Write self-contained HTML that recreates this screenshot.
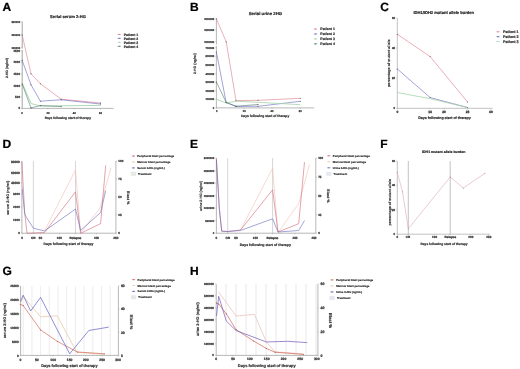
<!DOCTYPE html>
<html><head><meta charset="utf-8"><style>
html,body{margin:0;padding:0;background:#fff;}
body{width:520px;height:369px;overflow:hidden;}
svg{display:block;font-family:"Liberation Sans", sans-serif;will-change:transform;filter:blur(0.25px);}
</style></head><body>
<svg width="520" height="369" viewBox="0 0 520 369" text-rendering="geometricPrecision">
<rect width="520" height="369" fill="#fff"/>
<text transform="translate(2.60 10.70) scale(1.2000)" font-size="10" text-anchor="start" font-weight="bold" fill="#000" stroke="#000" stroke-width="0.208">A</text>
<text transform="translate(68.00 18.20) scale(0.4130)" font-size="10" text-anchor="middle" font-weight="bold" fill="#222" stroke="#222" stroke-width="0.436">Serial serum 2-HG</text>
<line x1="22.20" y1="21.70" x2="22.20" y2="48.50" stroke="#9a9a9a" stroke-width="0.9"/>
<line x1="22.20" y1="50.00" x2="22.20" y2="108.40" stroke="#9a9a9a" stroke-width="0.9"/>
<line x1="22.20" y1="108.40" x2="113.60" y2="108.40" stroke="#9a9a9a" stroke-width="0.7"/>
<line x1="21.20" y1="21.70" x2="22.20" y2="21.70" stroke="#9a9a9a" stroke-width="0.5"/>
<text transform="translate(20.10 22.64) scale(0.2600)" font-size="10" text-anchor="end" font-weight="bold" fill="#333" stroke="#333" stroke-width="0.962">300000</text>
<line x1="21.20" y1="34.60" x2="22.20" y2="34.60" stroke="#9a9a9a" stroke-width="0.5"/>
<text transform="translate(20.10 35.54) scale(0.2600)" font-size="10" text-anchor="end" font-weight="bold" fill="#333" stroke="#333" stroke-width="0.962">200000</text>
<line x1="21.20" y1="47.60" x2="22.20" y2="47.60" stroke="#9a9a9a" stroke-width="0.5"/>
<text transform="translate(20.10 48.54) scale(0.2600)" font-size="10" text-anchor="end" font-weight="bold" fill="#333" stroke="#333" stroke-width="0.962">100000</text>
<line x1="21.20" y1="50.70" x2="22.20" y2="50.70" stroke="#9a9a9a" stroke-width="0.5"/>
<text transform="translate(20.10 51.78) scale(0.3000)" font-size="10" text-anchor="end" font-weight="bold" fill="#333" stroke="#333" stroke-width="0.833">2500</text>
<line x1="21.20" y1="62.30" x2="22.20" y2="62.30" stroke="#9a9a9a" stroke-width="0.5"/>
<text transform="translate(20.10 63.38) scale(0.3000)" font-size="10" text-anchor="end" font-weight="bold" fill="#333" stroke="#333" stroke-width="0.833">2000</text>
<line x1="21.20" y1="73.90" x2="22.20" y2="73.90" stroke="#9a9a9a" stroke-width="0.5"/>
<text transform="translate(20.10 74.98) scale(0.3000)" font-size="10" text-anchor="end" font-weight="bold" fill="#333" stroke="#333" stroke-width="0.833">1500</text>
<line x1="21.20" y1="85.50" x2="22.20" y2="85.50" stroke="#9a9a9a" stroke-width="0.5"/>
<text transform="translate(20.10 86.58) scale(0.3000)" font-size="10" text-anchor="end" font-weight="bold" fill="#333" stroke="#333" stroke-width="0.833">1000</text>
<line x1="21.20" y1="96.90" x2="22.20" y2="96.90" stroke="#9a9a9a" stroke-width="0.5"/>
<text transform="translate(20.10 97.98) scale(0.3000)" font-size="10" text-anchor="end" font-weight="bold" fill="#333" stroke="#333" stroke-width="0.833">500</text>
<line x1="21.20" y1="108.40" x2="22.20" y2="108.40" stroke="#9a9a9a" stroke-width="0.5"/>
<text transform="translate(20.10 109.48) scale(0.3000)" font-size="10" text-anchor="end" font-weight="bold" fill="#333" stroke="#333" stroke-width="0.833">0</text>
<line x1="21.90" y1="108.40" x2="21.90" y2="109.40" stroke="#9a9a9a" stroke-width="0.5"/>
<text transform="translate(21.90 114.00) scale(0.2700)" font-size="10" text-anchor="middle" font-weight="bold" fill="#333" stroke="#333" stroke-width="0.926">0</text>
<line x1="48.10" y1="108.40" x2="48.10" y2="109.40" stroke="#9a9a9a" stroke-width="0.5"/>
<text transform="translate(48.10 114.00) scale(0.2700)" font-size="10" text-anchor="middle" font-weight="bold" fill="#333" stroke="#333" stroke-width="0.926">20</text>
<line x1="74.30" y1="108.40" x2="74.30" y2="109.40" stroke="#9a9a9a" stroke-width="0.5"/>
<text transform="translate(74.30 114.00) scale(0.2700)" font-size="10" text-anchor="middle" font-weight="bold" fill="#333" stroke="#333" stroke-width="0.926">40</text>
<line x1="100.50" y1="108.40" x2="100.50" y2="109.40" stroke="#9a9a9a" stroke-width="0.5"/>
<text transform="translate(100.50 114.00) scale(0.2700)" font-size="10" text-anchor="middle" font-weight="bold" fill="#333" stroke="#333" stroke-width="0.926">60</text>
<text transform="translate(67.80 119.30) scale(0.3160)" font-size="10" text-anchor="middle" font-weight="bold" fill="#333" stroke="#333" stroke-width="0.633">Days following start of therapy</text>
<text transform="translate(7.91 68.00) rotate(-90) scale(0.3350)" font-size="10" text-anchor="middle" font-weight="bold" fill="#333" stroke="#333" stroke-width="0.478">2-HG (ng/ml)</text>
<polyline points="22.20,35.00 31.00,73.80 40.40,83.80 61.20,99.20 100.50,103.00" fill="none" stroke="#de7888" stroke-width="0.6" stroke-linejoin="round"/>
<circle cx="22.20" cy="35.00" r="0.55" fill="#555"/>
<circle cx="31.00" cy="73.80" r="0.55" fill="#555"/>
<circle cx="40.40" cy="83.80" r="0.55" fill="#555"/>
<circle cx="61.20" cy="99.20" r="0.55" fill="#555"/>
<circle cx="100.50" cy="103.00" r="0.55" fill="#555"/>
<polyline points="22.20,60.40 31.00,84.80 40.40,101.20 61.20,99.80 100.50,104.00" fill="none" stroke="#6464c0" stroke-width="0.6" stroke-linejoin="round"/>
<circle cx="22.20" cy="60.40" r="0.55" fill="#555"/>
<circle cx="31.00" cy="84.80" r="0.55" fill="#555"/>
<circle cx="40.40" cy="101.20" r="0.55" fill="#555"/>
<circle cx="61.20" cy="99.80" r="0.55" fill="#555"/>
<circle cx="100.50" cy="104.00" r="0.55" fill="#555"/>
<polyline points="22.20,82.90 31.00,103.50 40.40,106.00 100.50,105.40" fill="none" stroke="#a4d4a8" stroke-width="0.9" stroke-linejoin="round"/>
<polyline points="22.20,84.00 31.00,107.90 40.40,105.60 61.20,106.60" fill="none" stroke="#4c7c70" stroke-width="0.6" stroke-linejoin="round"/>
<circle cx="22.20" cy="84.00" r="0.55" fill="#555"/>
<circle cx="31.00" cy="107.90" r="0.55" fill="#555"/>
<circle cx="40.40" cy="105.60" r="0.55" fill="#555"/>
<circle cx="61.20" cy="106.60" r="0.55" fill="#555"/>
<line x1="117.60" y1="34.40" x2="120.80" y2="34.40" stroke="#de7888" stroke-width="0.7"/>
<circle cx="119.2" cy="34.4" r="0.55" fill="#de7888"/>
<text transform="translate(123.80 35.64) scale(0.3450)" font-size="10" text-anchor="start" font-weight="bold" fill="#333" stroke="#333" stroke-width="0.580">Patient 1</text>
<line x1="117.60" y1="38.37" x2="120.80" y2="38.37" stroke="#6464c0" stroke-width="0.7"/>
<circle cx="119.2" cy="38.37" r="0.55" fill="#6464c0"/>
<text transform="translate(123.80 39.61) scale(0.3450)" font-size="10" text-anchor="start" font-weight="bold" fill="#333" stroke="#333" stroke-width="0.580">Patient 2</text>
<line x1="117.60" y1="42.34" x2="120.80" y2="42.34" stroke="#a4d4a8" stroke-width="0.7"/>
<circle cx="119.2" cy="42.339999999999996" r="0.55" fill="#a4d4a8"/>
<text transform="translate(123.80 43.58) scale(0.3450)" font-size="10" text-anchor="start" font-weight="bold" fill="#333" stroke="#333" stroke-width="0.580">Patient 3</text>
<line x1="117.60" y1="46.31" x2="120.80" y2="46.31" stroke="#4c7c70" stroke-width="0.7"/>
<circle cx="119.2" cy="46.31" r="0.55" fill="#4c7c70"/>
<text transform="translate(123.80 47.55) scale(0.3450)" font-size="10" text-anchor="start" font-weight="bold" fill="#333" stroke="#333" stroke-width="0.580">Patient 4</text>
<text transform="translate(190.00 10.70) scale(1.2000)" font-size="10" text-anchor="start" font-weight="bold" fill="#000" stroke="#000" stroke-width="0.208">B</text>
<text transform="translate(265.40 14.60) scale(0.4300)" font-size="10" text-anchor="middle" font-weight="bold" fill="#222" stroke="#222" stroke-width="0.419">Serial urine 2HG</text>
<line x1="216.40" y1="18.80" x2="216.40" y2="44.50" stroke="#9a9a9a" stroke-width="0.7"/>
<line x1="216.40" y1="46.00" x2="216.40" y2="107.90" stroke="#9a9a9a" stroke-width="0.7"/>
<line x1="216.40" y1="107.90" x2="314.20" y2="107.90" stroke="#9a9a9a" stroke-width="0.7"/>
<line x1="215.40" y1="18.80" x2="216.40" y2="18.80" stroke="#9a9a9a" stroke-width="0.5"/>
<text transform="translate(214.30 19.74) scale(0.2600)" font-size="10" text-anchor="end" font-weight="bold" fill="#333" stroke="#333" stroke-width="0.962">2000000</text>
<line x1="215.40" y1="30.20" x2="216.40" y2="30.20" stroke="#9a9a9a" stroke-width="0.5"/>
<text transform="translate(214.30 31.14) scale(0.2600)" font-size="10" text-anchor="end" font-weight="bold" fill="#333" stroke="#333" stroke-width="0.962">1500000</text>
<line x1="215.40" y1="41.60" x2="216.40" y2="41.60" stroke="#9a9a9a" stroke-width="0.5"/>
<text transform="translate(214.30 42.54) scale(0.2600)" font-size="10" text-anchor="end" font-weight="bold" fill="#333" stroke="#333" stroke-width="0.962">1000000</text>
<line x1="215.40" y1="47.60" x2="216.40" y2="47.60" stroke="#9a9a9a" stroke-width="0.5"/>
<text transform="translate(214.30 48.54) scale(0.2600)" font-size="10" text-anchor="end" font-weight="bold" fill="#333" stroke="#333" stroke-width="0.962">700000</text>
<line x1="215.40" y1="56.30" x2="216.40" y2="56.30" stroke="#9a9a9a" stroke-width="0.5"/>
<text transform="translate(214.30 57.24) scale(0.2600)" font-size="10" text-anchor="end" font-weight="bold" fill="#333" stroke="#333" stroke-width="0.962">600000</text>
<line x1="215.40" y1="64.90" x2="216.40" y2="64.90" stroke="#9a9a9a" stroke-width="0.5"/>
<text transform="translate(214.30 65.84) scale(0.2600)" font-size="10" text-anchor="end" font-weight="bold" fill="#333" stroke="#333" stroke-width="0.962">500000</text>
<line x1="215.40" y1="73.60" x2="216.40" y2="73.60" stroke="#9a9a9a" stroke-width="0.5"/>
<text transform="translate(214.30 74.54) scale(0.2600)" font-size="10" text-anchor="end" font-weight="bold" fill="#333" stroke="#333" stroke-width="0.962">400000</text>
<line x1="215.40" y1="82.20" x2="216.40" y2="82.20" stroke="#9a9a9a" stroke-width="0.5"/>
<text transform="translate(214.30 83.14) scale(0.2600)" font-size="10" text-anchor="end" font-weight="bold" fill="#333" stroke="#333" stroke-width="0.962">300000</text>
<line x1="215.40" y1="90.90" x2="216.40" y2="90.90" stroke="#9a9a9a" stroke-width="0.5"/>
<text transform="translate(214.30 91.84) scale(0.2600)" font-size="10" text-anchor="end" font-weight="bold" fill="#333" stroke="#333" stroke-width="0.962">200000</text>
<line x1="215.40" y1="99.40" x2="216.40" y2="99.40" stroke="#9a9a9a" stroke-width="0.5"/>
<text transform="translate(214.30 100.34) scale(0.2600)" font-size="10" text-anchor="end" font-weight="bold" fill="#333" stroke="#333" stroke-width="0.962">100000</text>
<line x1="215.40" y1="107.90" x2="216.40" y2="107.90" stroke="#9a9a9a" stroke-width="0.5"/>
<text transform="translate(214.30 108.84) scale(0.2600)" font-size="10" text-anchor="end" font-weight="bold" fill="#333" stroke="#333" stroke-width="0.962">0</text>
<line x1="216.60" y1="107.90" x2="216.60" y2="108.90" stroke="#9a9a9a" stroke-width="0.5"/>
<text transform="translate(216.60 112.20) scale(0.2600)" font-size="10" text-anchor="middle" font-weight="bold" fill="#333" stroke="#333" stroke-width="0.962">0</text>
<line x1="244.20" y1="107.90" x2="244.20" y2="108.90" stroke="#9a9a9a" stroke-width="0.5"/>
<text transform="translate(244.20 112.20) scale(0.2600)" font-size="10" text-anchor="middle" font-weight="bold" fill="#333" stroke="#333" stroke-width="0.962">20</text>
<line x1="272.00" y1="107.90" x2="272.00" y2="108.90" stroke="#9a9a9a" stroke-width="0.5"/>
<text transform="translate(272.00 112.20) scale(0.2600)" font-size="10" text-anchor="middle" font-weight="bold" fill="#333" stroke="#333" stroke-width="0.962">40</text>
<line x1="300.20" y1="107.90" x2="300.20" y2="108.90" stroke="#9a9a9a" stroke-width="0.5"/>
<text transform="translate(300.20 112.20) scale(0.2600)" font-size="10" text-anchor="middle" font-weight="bold" fill="#333" stroke="#333" stroke-width="0.962">60</text>
<text transform="translate(265.10 116.70) scale(0.3300)" font-size="10" text-anchor="middle" font-weight="bold" fill="#333" stroke="#333" stroke-width="0.606">Days following start of therapy</text>
<text transform="translate(196.06 63.60) rotate(-90) scale(0.3500)" font-size="10" text-anchor="middle" font-weight="bold" fill="#333" stroke="#333" stroke-width="0.457">2-HG (ng/ml)</text>
<polyline points="216.40,18.80 226.20,41.80 236.00,100.60 258.00,100.30 300.30,98.30" fill="none" stroke="#de7888" stroke-width="0.6" stroke-linejoin="round"/>
<circle cx="216.40" cy="18.80" r="0.55" fill="#555"/>
<circle cx="226.20" cy="41.80" r="0.55" fill="#555"/>
<circle cx="236.00" cy="100.60" r="0.55" fill="#555"/>
<circle cx="258.00" cy="100.30" r="0.55" fill="#555"/>
<circle cx="300.30" cy="98.30" r="0.55" fill="#555"/>
<polyline points="216.40,52.00 226.20,102.60 236.00,106.40 258.00,106.30 300.30,101.30" fill="none" stroke="#6464c0" stroke-width="0.6" stroke-linejoin="round"/>
<circle cx="216.40" cy="52.00" r="0.55" fill="#555"/>
<circle cx="226.20" cy="102.60" r="0.55" fill="#555"/>
<circle cx="236.00" cy="106.40" r="0.55" fill="#555"/>
<circle cx="258.00" cy="106.30" r="0.55" fill="#555"/>
<circle cx="300.30" cy="101.30" r="0.55" fill="#555"/>
<polyline points="216.40,99.20 226.20,103.00 236.00,101.20 258.00,102.30 300.30,104.70" fill="none" stroke="#a4d4a8" stroke-width="0.8" stroke-linejoin="round"/>
<polyline points="216.40,82.00 226.20,102.40 236.00,106.30 258.00,104.50" fill="none" stroke="#4c7c70" stroke-width="0.6" stroke-linejoin="round"/>
<circle cx="216.40" cy="82.00" r="0.55" fill="#555"/>
<circle cx="226.20" cy="102.40" r="0.55" fill="#555"/>
<circle cx="236.00" cy="106.30" r="0.55" fill="#555"/>
<circle cx="258.00" cy="104.50" r="0.55" fill="#555"/>
<line x1="313.90" y1="29.00" x2="317.10" y2="29.00" stroke="#de7888" stroke-width="0.7"/>
<circle cx="315.5" cy="29.0" r="0.55" fill="#de7888"/>
<text transform="translate(320.30 30.26) scale(0.3500)" font-size="10" text-anchor="start" font-weight="bold" fill="#333" stroke="#333" stroke-width="0.571">Patient 1</text>
<line x1="313.90" y1="33.95" x2="317.10" y2="33.95" stroke="#6464c0" stroke-width="0.7"/>
<circle cx="315.5" cy="33.95" r="0.55" fill="#6464c0"/>
<text transform="translate(320.30 35.21) scale(0.3500)" font-size="10" text-anchor="start" font-weight="bold" fill="#333" stroke="#333" stroke-width="0.571">Patient 2</text>
<line x1="313.90" y1="38.90" x2="317.10" y2="38.90" stroke="#a4d4a8" stroke-width="0.7"/>
<circle cx="315.5" cy="38.9" r="0.55" fill="#a4d4a8"/>
<text transform="translate(320.30 40.16) scale(0.3500)" font-size="10" text-anchor="start" font-weight="bold" fill="#333" stroke="#333" stroke-width="0.571">Patient 3</text>
<line x1="313.90" y1="43.85" x2="317.10" y2="43.85" stroke="#4c7c70" stroke-width="0.7"/>
<circle cx="315.5" cy="43.85" r="0.55" fill="#4c7c70"/>
<text transform="translate(320.30 45.11) scale(0.3500)" font-size="10" text-anchor="start" font-weight="bold" fill="#333" stroke="#333" stroke-width="0.571">Patient 4</text>
<text transform="translate(380.20 10.70) scale(1.2000)" font-size="10" text-anchor="start" font-weight="bold" fill="#000" stroke="#000" stroke-width="0.208">C</text>
<text transform="translate(443.70 13.50) scale(0.4060)" font-size="10" text-anchor="middle" font-weight="bold" fill="#222" stroke="#222" stroke-width="0.443">IDH1/IDH2 mutant allele burden</text>
<line x1="397.30" y1="18.00" x2="397.30" y2="108.30" stroke="#9a9a9a" stroke-width="0.6"/>
<line x1="397.30" y1="108.30" x2="492.50" y2="108.30" stroke="#9a9a9a" stroke-width="0.6"/>
<line x1="396.30" y1="18.00" x2="397.30" y2="18.00" stroke="#9a9a9a" stroke-width="0.5"/>
<text transform="translate(395.20 19.04) scale(0.2900)" font-size="10" text-anchor="end" font-weight="bold" fill="#333" stroke="#333" stroke-width="0.862">60</text>
<line x1="396.30" y1="48.10" x2="397.30" y2="48.10" stroke="#9a9a9a" stroke-width="0.5"/>
<text transform="translate(395.20 49.14) scale(0.2900)" font-size="10" text-anchor="end" font-weight="bold" fill="#333" stroke="#333" stroke-width="0.862">40</text>
<line x1="396.30" y1="78.20" x2="397.30" y2="78.20" stroke="#9a9a9a" stroke-width="0.5"/>
<text transform="translate(395.20 79.24) scale(0.2900)" font-size="10" text-anchor="end" font-weight="bold" fill="#333" stroke="#333" stroke-width="0.862">20</text>
<line x1="396.30" y1="108.30" x2="397.30" y2="108.30" stroke="#9a9a9a" stroke-width="0.5"/>
<text transform="translate(395.20 109.34) scale(0.2900)" font-size="10" text-anchor="end" font-weight="bold" fill="#333" stroke="#333" stroke-width="0.862">0</text>
<line x1="397.30" y1="108.30" x2="397.30" y2="109.30" stroke="#9a9a9a" stroke-width="0.5"/>
<text transform="translate(397.30 113.20) scale(0.3300)" font-size="10" text-anchor="middle" font-weight="bold" fill="#333" stroke="#333" stroke-width="0.758">0</text>
<line x1="430.10" y1="108.30" x2="430.10" y2="109.30" stroke="#9a9a9a" stroke-width="0.5"/>
<text transform="translate(430.10 113.20) scale(0.3300)" font-size="10" text-anchor="middle" font-weight="bold" fill="#333" stroke="#333" stroke-width="0.758">14</text>
<line x1="444.10" y1="108.30" x2="444.10" y2="109.30" stroke="#9a9a9a" stroke-width="0.5"/>
<text transform="translate(444.10 113.20) scale(0.3300)" font-size="10" text-anchor="middle" font-weight="bold" fill="#333" stroke="#333" stroke-width="0.758">20</text>
<line x1="467.50" y1="108.30" x2="467.50" y2="109.30" stroke="#9a9a9a" stroke-width="0.5"/>
<text transform="translate(467.50 113.20) scale(0.3300)" font-size="10" text-anchor="middle" font-weight="bold" fill="#333" stroke="#333" stroke-width="0.758">28</text>
<line x1="490.90" y1="108.30" x2="490.90" y2="109.30" stroke="#9a9a9a" stroke-width="0.5"/>
<text transform="translate(490.90 113.20) scale(0.3300)" font-size="10" text-anchor="middle" font-weight="bold" fill="#333" stroke="#333" stroke-width="0.758">40</text>
<text transform="translate(444.50 118.50) scale(0.3600)" font-size="10" text-anchor="middle" font-weight="bold" fill="#333" stroke="#333" stroke-width="0.556">Days following start of therapy</text>
<text transform="translate(390.02 63.20) rotate(-90) scale(0.3660)" font-size="10" text-anchor="middle" font-weight="bold" fill="#333" stroke="#333" stroke-width="0.437">percentage of mutant allele</text>
<polyline points="397.30,34.30 430.10,56.50 467.50,102.00" fill="none" stroke="#de7888" stroke-width="0.6" stroke-linejoin="round"/>
<circle cx="397.30" cy="34.30" r="0.55" fill="#555"/>
<circle cx="430.10" cy="56.50" r="0.55" fill="#555"/>
<circle cx="467.50" cy="102.00" r="0.55" fill="#555"/>
<polyline points="397.30,69.00 430.10,97.50 467.50,107.50" fill="none" stroke="#6464c0" stroke-width="0.6" stroke-linejoin="round"/>
<circle cx="397.30" cy="69.00" r="0.55" fill="#555"/>
<circle cx="430.10" cy="97.50" r="0.55" fill="#555"/>
<circle cx="467.50" cy="107.50" r="0.55" fill="#555"/>
<polyline points="397.30,92.50 430.10,98.70 467.50,107.50" fill="none" stroke="#a4d4a8" stroke-width="0.8" stroke-linejoin="round"/>
<line x1="496.40" y1="31.80" x2="499.60" y2="31.80" stroke="#de7888" stroke-width="0.7"/>
<circle cx="498" cy="31.8" r="0.55" fill="#de7888"/>
<text transform="translate(503.00 33.15) scale(0.3750)" font-size="10" text-anchor="start" font-weight="bold" fill="#333" stroke="#333" stroke-width="0.533">Patient 1</text>
<line x1="496.40" y1="36.65" x2="499.60" y2="36.65" stroke="#6464c0" stroke-width="0.7"/>
<circle cx="498" cy="36.65" r="0.55" fill="#6464c0"/>
<text transform="translate(503.00 38.00) scale(0.3750)" font-size="10" text-anchor="start" font-weight="bold" fill="#333" stroke="#333" stroke-width="0.533">Patient 2</text>
<line x1="496.40" y1="41.50" x2="499.60" y2="41.50" stroke="#a4d4a8" stroke-width="0.7"/>
<circle cx="498" cy="41.5" r="0.55" fill="#a4d4a8"/>
<text transform="translate(503.00 42.85) scale(0.3750)" font-size="10" text-anchor="start" font-weight="bold" fill="#333" stroke="#333" stroke-width="0.533">Patient 3</text>
<text transform="translate(2.60 147.70) scale(1.2000)" font-size="10" text-anchor="start" font-weight="bold" fill="#000" stroke="#000" stroke-width="0.208">D</text>
<line x1="33.40" y1="161.00" x2="33.40" y2="233.20" stroke="#c4c4cc" stroke-width="0.7"/>
<line x1="75.50" y1="161.00" x2="75.50" y2="233.20" stroke="#c4c4cc" stroke-width="0.7"/>
<line x1="21.90" y1="161.00" x2="21.90" y2="186.00" stroke="#9a9a9a" stroke-width="0.7"/>
<line x1="21.90" y1="189.00" x2="21.90" y2="233.20" stroke="#9a9a9a" stroke-width="0.7"/>
<line x1="115.90" y1="161.00" x2="115.90" y2="233.20" stroke="#9a9a9a" stroke-width="0.7"/>
<line x1="21.90" y1="233.20" x2="115.90" y2="233.20" stroke="#9a9a9a" stroke-width="0.7"/>
<line x1="20.90" y1="161.80" x2="21.90" y2="161.80" stroke="#9a9a9a" stroke-width="0.5"/>
<text transform="translate(19.80 162.95) scale(0.3200)" font-size="10" text-anchor="end" font-weight="bold" fill="#333" stroke="#333" stroke-width="0.781">80000</text>
<line x1="20.90" y1="172.40" x2="21.90" y2="172.40" stroke="#9a9a9a" stroke-width="0.5"/>
<text transform="translate(19.80 173.55) scale(0.3200)" font-size="10" text-anchor="end" font-weight="bold" fill="#333" stroke="#333" stroke-width="0.781">60000</text>
<line x1="20.90" y1="183.00" x2="21.90" y2="183.00" stroke="#9a9a9a" stroke-width="0.5"/>
<text transform="translate(19.80 184.15) scale(0.3200)" font-size="10" text-anchor="end" font-weight="bold" fill="#333" stroke="#333" stroke-width="0.781">40000</text>
<line x1="20.90" y1="193.90" x2="21.90" y2="193.90" stroke="#9a9a9a" stroke-width="0.5"/>
<text transform="translate(19.80 194.98) scale(0.3000)" font-size="10" text-anchor="end" font-weight="bold" fill="#333" stroke="#333" stroke-width="0.833">3000</text>
<line x1="20.90" y1="207.10" x2="21.90" y2="207.10" stroke="#9a9a9a" stroke-width="0.5"/>
<text transform="translate(19.80 208.18) scale(0.3000)" font-size="10" text-anchor="end" font-weight="bold" fill="#333" stroke="#333" stroke-width="0.833">2000</text>
<line x1="20.90" y1="220.30" x2="21.90" y2="220.30" stroke="#9a9a9a" stroke-width="0.5"/>
<text transform="translate(19.80 221.38) scale(0.3000)" font-size="10" text-anchor="end" font-weight="bold" fill="#333" stroke="#333" stroke-width="0.833">1000</text>
<line x1="20.90" y1="233.20" x2="21.90" y2="233.20" stroke="#9a9a9a" stroke-width="0.5"/>
<text transform="translate(19.80 234.28) scale(0.3000)" font-size="10" text-anchor="end" font-weight="bold" fill="#333" stroke="#333" stroke-width="0.833">0</text>
<line x1="115.90" y1="161.00" x2="116.90" y2="161.00" stroke="#9a9a9a" stroke-width="0.5"/>
<text transform="translate(118.30 162.08) scale(0.3000)" font-size="10" text-anchor="start" font-weight="bold" fill="#333" stroke="#333" stroke-width="0.833">100</text>
<line x1="115.90" y1="178.80" x2="116.90" y2="178.80" stroke="#9a9a9a" stroke-width="0.5"/>
<text transform="translate(118.30 179.88) scale(0.3000)" font-size="10" text-anchor="start" font-weight="bold" fill="#333" stroke="#333" stroke-width="0.833">75</text>
<line x1="115.90" y1="196.90" x2="116.90" y2="196.90" stroke="#9a9a9a" stroke-width="0.5"/>
<text transform="translate(118.30 197.98) scale(0.3000)" font-size="10" text-anchor="start" font-weight="bold" fill="#333" stroke="#333" stroke-width="0.833">50</text>
<line x1="115.90" y1="214.70" x2="116.90" y2="214.70" stroke="#9a9a9a" stroke-width="0.5"/>
<text transform="translate(118.30 215.78) scale(0.3000)" font-size="10" text-anchor="start" font-weight="bold" fill="#333" stroke="#333" stroke-width="0.833">25</text>
<line x1="115.90" y1="233.20" x2="116.90" y2="233.20" stroke="#9a9a9a" stroke-width="0.5"/>
<text transform="translate(118.30 234.28) scale(0.3000)" font-size="10" text-anchor="start" font-weight="bold" fill="#333" stroke="#333" stroke-width="0.833">0</text>
<line x1="22.20" y1="233.20" x2="22.20" y2="234.20" stroke="#9a9a9a" stroke-width="0.5"/>
<text transform="translate(22.20 238.90) scale(0.3100)" font-size="10" text-anchor="middle" font-weight="bold" fill="#333" stroke="#333" stroke-width="0.806">0</text>
<line x1="33.20" y1="233.20" x2="33.20" y2="234.20" stroke="#9a9a9a" stroke-width="0.5"/>
<text transform="translate(33.20 238.90) scale(0.3100)" font-size="10" text-anchor="middle" font-weight="bold" fill="#333" stroke="#333" stroke-width="0.806">CR</text>
<line x1="40.40" y1="233.20" x2="40.40" y2="234.20" stroke="#9a9a9a" stroke-width="0.5"/>
<text transform="translate(40.40 238.90) scale(0.3100)" font-size="10" text-anchor="middle" font-weight="bold" fill="#333" stroke="#333" stroke-width="0.806">50</text>
<line x1="59.40" y1="233.20" x2="59.40" y2="234.20" stroke="#9a9a9a" stroke-width="0.5"/>
<text transform="translate(59.40 238.90) scale(0.3100)" font-size="10" text-anchor="middle" font-weight="bold" fill="#333" stroke="#333" stroke-width="0.806">100</text>
<line x1="75.40" y1="233.20" x2="75.40" y2="234.20" stroke="#9a9a9a" stroke-width="0.5"/>
<text transform="translate(75.40 238.90) scale(0.3100)" font-size="10" text-anchor="middle" font-weight="bold" fill="#333" stroke="#333" stroke-width="0.806">Relapse</text>
<line x1="96.50" y1="233.20" x2="96.50" y2="234.20" stroke="#9a9a9a" stroke-width="0.5"/>
<text transform="translate(96.50 238.90) scale(0.3100)" font-size="10" text-anchor="middle" font-weight="bold" fill="#333" stroke="#333" stroke-width="0.806">200</text>
<line x1="115.90" y1="233.20" x2="115.90" y2="234.20" stroke="#9a9a9a" stroke-width="0.5"/>
<text transform="translate(115.90 238.90) scale(0.3100)" font-size="10" text-anchor="middle" font-weight="bold" fill="#333" stroke="#333" stroke-width="0.806">250</text>
<text transform="translate(68.50 245.40) scale(0.3420)" font-size="10" text-anchor="middle" font-weight="bold" fill="#333" stroke="#333" stroke-width="0.585">Days following start of therapy</text>
<text transform="translate(8.62 197.70) rotate(-90) scale(0.3670)" font-size="10" text-anchor="middle" font-weight="bold" fill="#333" stroke="#333" stroke-width="0.436">serum 2-HG (ng/ml)</text>
<text transform="translate(127.17 197.50) rotate(90) scale(0.3700)" font-size="10" text-anchor="middle" font-weight="bold" fill="#333" stroke="#333" stroke-width="0.432">Blast %</text>
<polyline points="44.50,231.00 75.50,170.00 80.60,233.00 100.00,208.00 111.00,167.70" fill="none" stroke="#f0c0b0" stroke-width="0.6" stroke-linejoin="round"/>
<polyline points="21.90,161.90 24.70,212.50 27.00,233.30 44.50,232.50 75.50,191.80 80.60,233.30 100.60,223.60 105.70,165.40" fill="none" stroke="#d06676" stroke-width="0.6" stroke-linejoin="round"/>
<polyline points="21.90,186.00 24.70,213.70 26.00,216.70 33.40,228.20 44.50,231.00 75.50,209.00 80.60,230.50 100.60,212.50 105.70,190.70" fill="none" stroke="#6868bc" stroke-width="0.6" stroke-linejoin="round"/>
<line x1="131.80" y1="156.10" x2="135.00" y2="156.10" stroke="#d06676" stroke-width="0.7"/>
<circle cx="133.4" cy="156.1" r="0.55" fill="#d06676"/>
<text transform="translate(137.20 157.12) scale(0.2820)" font-size="10" text-anchor="start" font-weight="bold" fill="#333" stroke="#333" stroke-width="0.603">Peripheral blast percentage</text>
<line x1="131.80" y1="162.00" x2="135.00" y2="162.00" stroke="#f0c0b0" stroke-width="0.7"/>
<circle cx="133.4" cy="162.0" r="0.55" fill="#f0c0b0"/>
<text transform="translate(137.20 163.02) scale(0.2820)" font-size="10" text-anchor="start" font-weight="bold" fill="#333" stroke="#333" stroke-width="0.603">Marrow blast percentage</text>
<line x1="131.80" y1="167.90" x2="135.00" y2="167.90" stroke="#6868bc" stroke-width="0.7"/>
<circle cx="133.4" cy="167.9" r="0.55" fill="#6868bc"/>
<text transform="translate(137.20 168.92) scale(0.2820)" font-size="10" text-anchor="start" font-weight="bold" fill="#333" stroke="#333" stroke-width="0.603">Serum 2-HG (ng/mL)</text>
<rect x="130.80" y="171.80" width="5.20" height="4.00" fill="#e4ebe4"/>
<text transform="translate(138.00 174.82) scale(0.2820)" font-size="10" text-anchor="start" font-weight="bold" fill="#333" stroke="#333" stroke-width="0.603">Treatment</text>
<text transform="translate(190.00 147.80) scale(1.2000)" font-size="10" text-anchor="start" font-weight="bold" fill="#000" stroke="#000" stroke-width="0.208">E</text>
<line x1="227.70" y1="158.00" x2="227.70" y2="233.20" stroke="#c4c4cc" stroke-width="0.7"/>
<line x1="272.60" y1="158.00" x2="272.60" y2="233.20" stroke="#c4c4cc" stroke-width="0.7"/>
<line x1="216.40" y1="158.00" x2="216.40" y2="233.20" stroke="#9a9a9a" stroke-width="0.7"/>
<line x1="315.80" y1="158.00" x2="315.80" y2="233.20" stroke="#9a9a9a" stroke-width="0.7"/>
<line x1="216.40" y1="233.20" x2="315.80" y2="233.20" stroke="#9a9a9a" stroke-width="0.7"/>
<line x1="215.40" y1="158.30" x2="216.40" y2="158.30" stroke="#9a9a9a" stroke-width="0.5"/>
<text transform="translate(214.30 159.27) scale(0.2700)" font-size="10" text-anchor="end" font-weight="bold" fill="#333" stroke="#333" stroke-width="0.926">3000000</text>
<line x1="215.40" y1="170.80" x2="216.40" y2="170.80" stroke="#9a9a9a" stroke-width="0.5"/>
<text transform="translate(214.30 171.77) scale(0.2700)" font-size="10" text-anchor="end" font-weight="bold" fill="#333" stroke="#333" stroke-width="0.926">2500000</text>
<line x1="215.40" y1="183.20" x2="216.40" y2="183.20" stroke="#9a9a9a" stroke-width="0.5"/>
<text transform="translate(214.30 184.17) scale(0.2700)" font-size="10" text-anchor="end" font-weight="bold" fill="#333" stroke="#333" stroke-width="0.926">2000000</text>
<line x1="215.40" y1="195.60" x2="216.40" y2="195.60" stroke="#9a9a9a" stroke-width="0.5"/>
<text transform="translate(214.30 196.57) scale(0.2700)" font-size="10" text-anchor="end" font-weight="bold" fill="#333" stroke="#333" stroke-width="0.926">1500000</text>
<line x1="215.40" y1="208.20" x2="216.40" y2="208.20" stroke="#9a9a9a" stroke-width="0.5"/>
<text transform="translate(214.30 209.17) scale(0.2700)" font-size="10" text-anchor="end" font-weight="bold" fill="#333" stroke="#333" stroke-width="0.926">1000000</text>
<line x1="215.40" y1="220.70" x2="216.40" y2="220.70" stroke="#9a9a9a" stroke-width="0.5"/>
<text transform="translate(214.30 221.67) scale(0.2700)" font-size="10" text-anchor="end" font-weight="bold" fill="#333" stroke="#333" stroke-width="0.926">500000</text>
<line x1="215.40" y1="233.20" x2="216.40" y2="233.20" stroke="#9a9a9a" stroke-width="0.5"/>
<text transform="translate(214.30 234.17) scale(0.2700)" font-size="10" text-anchor="end" font-weight="bold" fill="#333" stroke="#333" stroke-width="0.926">0</text>
<line x1="315.80" y1="158.20" x2="316.80" y2="158.20" stroke="#9a9a9a" stroke-width="0.5"/>
<text transform="translate(318.20 159.28) scale(0.3000)" font-size="10" text-anchor="start" font-weight="bold" fill="#333" stroke="#333" stroke-width="0.833">100</text>
<line x1="315.80" y1="177.00" x2="316.80" y2="177.00" stroke="#9a9a9a" stroke-width="0.5"/>
<text transform="translate(318.20 178.08) scale(0.3000)" font-size="10" text-anchor="start" font-weight="bold" fill="#333" stroke="#333" stroke-width="0.833">75</text>
<line x1="315.80" y1="195.80" x2="316.80" y2="195.80" stroke="#9a9a9a" stroke-width="0.5"/>
<text transform="translate(318.20 196.88) scale(0.3000)" font-size="10" text-anchor="start" font-weight="bold" fill="#333" stroke="#333" stroke-width="0.833">50</text>
<line x1="315.80" y1="214.60" x2="316.80" y2="214.60" stroke="#9a9a9a" stroke-width="0.5"/>
<text transform="translate(318.20 215.68) scale(0.3000)" font-size="10" text-anchor="start" font-weight="bold" fill="#333" stroke="#333" stroke-width="0.833">25</text>
<line x1="315.80" y1="233.20" x2="316.80" y2="233.20" stroke="#9a9a9a" stroke-width="0.5"/>
<text transform="translate(318.20 234.28) scale(0.3000)" font-size="10" text-anchor="start" font-weight="bold" fill="#333" stroke="#333" stroke-width="0.833">0</text>
<line x1="216.40" y1="233.20" x2="216.40" y2="234.20" stroke="#9a9a9a" stroke-width="0.5"/>
<text transform="translate(216.40 238.90) scale(0.3100)" font-size="10" text-anchor="middle" font-weight="bold" fill="#333" stroke="#333" stroke-width="0.806">0</text>
<line x1="227.70" y1="233.20" x2="227.70" y2="234.20" stroke="#9a9a9a" stroke-width="0.5"/>
<text transform="translate(227.70 238.90) scale(0.3100)" font-size="10" text-anchor="middle" font-weight="bold" fill="#333" stroke="#333" stroke-width="0.806">CR</text>
<line x1="235.90" y1="233.20" x2="235.90" y2="234.20" stroke="#9a9a9a" stroke-width="0.5"/>
<text transform="translate(235.90 238.90) scale(0.3100)" font-size="10" text-anchor="middle" font-weight="bold" fill="#333" stroke="#333" stroke-width="0.806">50</text>
<line x1="255.40" y1="233.20" x2="255.40" y2="234.20" stroke="#9a9a9a" stroke-width="0.5"/>
<text transform="translate(255.40 238.90) scale(0.3100)" font-size="10" text-anchor="middle" font-weight="bold" fill="#333" stroke="#333" stroke-width="0.806">100</text>
<line x1="272.40" y1="233.20" x2="272.40" y2="234.20" stroke="#9a9a9a" stroke-width="0.5"/>
<text transform="translate(272.40 238.90) scale(0.3100)" font-size="10" text-anchor="middle" font-weight="bold" fill="#333" stroke="#333" stroke-width="0.806">Relapse</text>
<line x1="295.00" y1="233.20" x2="295.00" y2="234.20" stroke="#9a9a9a" stroke-width="0.5"/>
<text transform="translate(295.00 238.90) scale(0.3100)" font-size="10" text-anchor="middle" font-weight="bold" fill="#333" stroke="#333" stroke-width="0.806">200</text>
<line x1="314.00" y1="233.20" x2="314.00" y2="234.20" stroke="#9a9a9a" stroke-width="0.5"/>
<text transform="translate(314.00 238.90) scale(0.3100)" font-size="10" text-anchor="middle" font-weight="bold" fill="#333" stroke="#333" stroke-width="0.806">250</text>
<text transform="translate(265.30 245.90) scale(0.3500)" font-size="10" text-anchor="middle" font-weight="bold" fill="#333" stroke="#333" stroke-width="0.571">Days following start of therapy</text>
<text transform="translate(201.85 196.00) rotate(-90) scale(0.3460)" font-size="10" text-anchor="middle" font-weight="bold" fill="#333" stroke="#333" stroke-width="0.462">urine 2-HG (ng/ml)</text>
<text transform="translate(326.67 195.80) rotate(90) scale(0.3700)" font-size="10" text-anchor="middle" font-weight="bold" fill="#333" stroke="#333" stroke-width="0.432">Blast %</text>
<polyline points="240.50,230.00 272.60,168.30 278.00,232.50 298.70,203.70 309.50,164.50" fill="none" stroke="#f0c0b0" stroke-width="0.6" stroke-linejoin="round"/>
<polyline points="216.40,158.50 219.30,208.50 221.70,231.20 227.70,231.50 240.50,230.00 272.60,189.80 278.00,232.00 298.70,223.70 304.50,162.00" fill="none" stroke="#d06676" stroke-width="0.6" stroke-linejoin="round"/>
<polyline points="216.40,160.00 219.30,208.00 221.70,231.20 227.70,231.50 240.50,230.50 272.60,218.80 278.00,232.00 298.70,230.50 304.50,220.50" fill="none" stroke="#6868bc" stroke-width="0.6" stroke-linejoin="round"/>
<line x1="327.20" y1="155.80" x2="330.40" y2="155.80" stroke="#d06676" stroke-width="0.7"/>
<circle cx="328.8" cy="155.8" r="0.55" fill="#d06676"/>
<text transform="translate(332.80 156.82) scale(0.2820)" font-size="10" text-anchor="start" font-weight="bold" fill="#333" stroke="#333" stroke-width="0.603">Peripheral blast percentage</text>
<line x1="327.20" y1="161.80" x2="330.40" y2="161.80" stroke="#f0c0b0" stroke-width="0.7"/>
<circle cx="328.8" cy="161.8" r="0.55" fill="#f0c0b0"/>
<text transform="translate(332.80 162.82) scale(0.2820)" font-size="10" text-anchor="start" font-weight="bold" fill="#333" stroke="#333" stroke-width="0.603">Marrow blast percentage</text>
<line x1="327.20" y1="167.80" x2="330.40" y2="167.80" stroke="#6868bc" stroke-width="0.7"/>
<circle cx="328.8" cy="167.8" r="0.55" fill="#6868bc"/>
<text transform="translate(332.80 168.82) scale(0.2820)" font-size="10" text-anchor="start" font-weight="bold" fill="#333" stroke="#333" stroke-width="0.603">Urine 2-HG (ng/mL)</text>
<rect x="326.20" y="171.80" width="5.20" height="4.00" fill="#e6e9f2"/>
<text transform="translate(333.60 174.82) scale(0.2820)" font-size="10" text-anchor="start" font-weight="bold" fill="#333" stroke="#333" stroke-width="0.603">Treatment</text>
<text transform="translate(380.20 148.20) scale(1.2000)" font-size="10" text-anchor="start" font-weight="bold" fill="#000" stroke="#000" stroke-width="0.208">F</text>
<text transform="translate(443.70 153.00) scale(0.3500)" font-size="10" text-anchor="middle" font-weight="bold" fill="#222" stroke="#222" stroke-width="0.514">IDH1 mutant allele burden</text>
<line x1="408.30" y1="161.00" x2="408.30" y2="234.20" stroke="#a8a8b0" stroke-width="0.7"/>
<line x1="450.20" y1="161.00" x2="450.20" y2="234.20" stroke="#a8a8b0" stroke-width="0.7"/>
<line x1="397.30" y1="161.00" x2="397.30" y2="234.20" stroke="#9a9a9a" stroke-width="0.6"/>
<line x1="397.30" y1="234.20" x2="489.50" y2="234.20" stroke="#9a9a9a" stroke-width="0.6"/>
<line x1="396.30" y1="161.00" x2="397.30" y2="161.00" stroke="#9a9a9a" stroke-width="0.5"/>
<text transform="translate(395.20 162.04) scale(0.2900)" font-size="10" text-anchor="end" font-weight="bold" fill="#333" stroke="#333" stroke-width="0.862">60</text>
<line x1="396.30" y1="185.40" x2="397.30" y2="185.40" stroke="#9a9a9a" stroke-width="0.5"/>
<text transform="translate(395.20 186.44) scale(0.2900)" font-size="10" text-anchor="end" font-weight="bold" fill="#333" stroke="#333" stroke-width="0.862">40</text>
<line x1="396.30" y1="209.80" x2="397.30" y2="209.80" stroke="#9a9a9a" stroke-width="0.5"/>
<text transform="translate(395.20 210.84) scale(0.2900)" font-size="10" text-anchor="end" font-weight="bold" fill="#333" stroke="#333" stroke-width="0.862">20</text>
<line x1="396.30" y1="234.20" x2="397.30" y2="234.20" stroke="#9a9a9a" stroke-width="0.5"/>
<text transform="translate(395.20 235.24) scale(0.2900)" font-size="10" text-anchor="end" font-weight="bold" fill="#333" stroke="#333" stroke-width="0.862">0</text>
<line x1="397.40" y1="234.20" x2="397.40" y2="235.20" stroke="#9a9a9a" stroke-width="0.5"/>
<text transform="translate(397.40 238.40) scale(0.3000)" font-size="10" text-anchor="middle" font-weight="bold" fill="#333" stroke="#333" stroke-width="0.833">0</text>
<line x1="408.00" y1="234.20" x2="408.00" y2="235.20" stroke="#9a9a9a" stroke-width="0.5"/>
<text transform="translate(408.00 238.40) scale(0.3000)" font-size="10" text-anchor="middle" font-weight="bold" fill="#333" stroke="#333" stroke-width="0.833">CR</text>
<line x1="434.60" y1="234.20" x2="434.60" y2="235.20" stroke="#9a9a9a" stroke-width="0.5"/>
<text transform="translate(434.60 238.40) scale(0.3000)" font-size="10" text-anchor="middle" font-weight="bold" fill="#333" stroke="#333" stroke-width="0.833">100</text>
<line x1="450.30" y1="234.20" x2="450.30" y2="235.20" stroke="#9a9a9a" stroke-width="0.5"/>
<text transform="translate(450.30 238.40) scale(0.3000)" font-size="10" text-anchor="middle" font-weight="bold" fill="#333" stroke="#333" stroke-width="0.833">Relapse</text>
<line x1="470.80" y1="234.20" x2="470.80" y2="235.20" stroke="#9a9a9a" stroke-width="0.5"/>
<text transform="translate(470.80 238.40) scale(0.3000)" font-size="10" text-anchor="middle" font-weight="bold" fill="#333" stroke="#333" stroke-width="0.833">200</text>
<line x1="488.80" y1="234.20" x2="488.80" y2="235.20" stroke="#9a9a9a" stroke-width="0.5"/>
<text transform="translate(488.80 238.40) scale(0.3000)" font-size="10" text-anchor="middle" font-weight="bold" fill="#333" stroke="#333" stroke-width="0.833">250</text>
<text transform="translate(444.00 245.00) scale(0.3220)" font-size="10" text-anchor="middle" font-weight="bold" fill="#333" stroke="#333" stroke-width="0.621">Days following start of therapy</text>
<text transform="translate(390.70 202.20) rotate(-90) scale(0.3600)" font-size="10" text-anchor="middle" font-weight="bold" fill="#333" stroke="#333" stroke-width="0.444">percentage of mutant allele</text>
<polyline points="397.30,172.50 402.50,191.80 408.30,228.70 450.20,177.00 463.30,188.00 485.00,173.30" fill="none" stroke="#dca8b2" stroke-width="0.6" stroke-linejoin="round"/>
<circle cx="397.30" cy="172.50" r="0.5" fill="#b08890"/>
<circle cx="402.50" cy="191.80" r="0.5" fill="#b08890"/>
<circle cx="408.30" cy="228.70" r="0.5" fill="#b08890"/>
<circle cx="450.20" cy="177.00" r="0.5" fill="#b08890"/>
<circle cx="463.30" cy="188.00" r="0.5" fill="#b08890"/>
<circle cx="485.00" cy="173.30" r="0.5" fill="#b08890"/>
<text transform="translate(2.60 274.60) scale(1.2000)" font-size="10" text-anchor="start" font-weight="bold" fill="#000" stroke="#000" stroke-width="0.208">G</text>
<line x1="23.20" y1="286.00" x2="23.20" y2="355.40" stroke="#e8e8ec" stroke-width="0.8"/>
<line x1="31.90" y1="286.00" x2="31.90" y2="355.40" stroke="#e8e8ec" stroke-width="0.8"/>
<line x1="40.60" y1="286.00" x2="40.60" y2="355.40" stroke="#e8e8ec" stroke-width="0.8"/>
<line x1="49.30" y1="286.00" x2="49.30" y2="355.40" stroke="#e8e8ec" stroke-width="0.8"/>
<line x1="58.00" y1="286.00" x2="58.00" y2="355.40" stroke="#e8e8ec" stroke-width="0.8"/>
<line x1="66.70" y1="286.00" x2="66.70" y2="355.40" stroke="#e8e8ec" stroke-width="0.8"/>
<line x1="75.40" y1="286.00" x2="75.40" y2="355.40" stroke="#e8e8ec" stroke-width="0.8"/>
<line x1="84.10" y1="286.00" x2="84.10" y2="355.40" stroke="#e8e8ec" stroke-width="0.8"/>
<line x1="92.80" y1="286.00" x2="92.80" y2="355.40" stroke="#e8e8ec" stroke-width="0.8"/>
<line x1="101.50" y1="286.00" x2="101.50" y2="355.40" stroke="#e8e8ec" stroke-width="0.8"/>
<line x1="110.20" y1="286.00" x2="110.20" y2="355.40" stroke="#e8e8ec" stroke-width="0.8"/>
<line x1="20.60" y1="286.20" x2="20.60" y2="355.40" stroke="#9a9a9a" stroke-width="0.7"/>
<line x1="118.40" y1="286.20" x2="118.40" y2="355.40" stroke="#9a9a9a" stroke-width="0.7"/>
<line x1="20.60" y1="355.40" x2="118.40" y2="355.40" stroke="#9a9a9a" stroke-width="0.7"/>
<line x1="19.60" y1="286.20" x2="20.60" y2="286.20" stroke="#9a9a9a" stroke-width="0.5"/>
<text transform="translate(18.80 287.32) scale(0.3100)" font-size="10" text-anchor="end" font-weight="bold" fill="#333" stroke="#333" stroke-width="0.806">25000</text>
<line x1="19.60" y1="299.90" x2="20.60" y2="299.90" stroke="#9a9a9a" stroke-width="0.5"/>
<text transform="translate(18.80 301.02) scale(0.3100)" font-size="10" text-anchor="end" font-weight="bold" fill="#333" stroke="#333" stroke-width="0.806">20000</text>
<line x1="19.60" y1="313.70" x2="20.60" y2="313.70" stroke="#9a9a9a" stroke-width="0.5"/>
<text transform="translate(18.80 314.82) scale(0.3100)" font-size="10" text-anchor="end" font-weight="bold" fill="#333" stroke="#333" stroke-width="0.806">15000</text>
<line x1="19.60" y1="327.60" x2="20.60" y2="327.60" stroke="#9a9a9a" stroke-width="0.5"/>
<text transform="translate(18.80 328.72) scale(0.3100)" font-size="10" text-anchor="end" font-weight="bold" fill="#333" stroke="#333" stroke-width="0.806">10000</text>
<line x1="19.60" y1="341.50" x2="20.60" y2="341.50" stroke="#9a9a9a" stroke-width="0.5"/>
<text transform="translate(18.80 342.62) scale(0.3100)" font-size="10" text-anchor="end" font-weight="bold" fill="#333" stroke="#333" stroke-width="0.806">5000</text>
<line x1="19.60" y1="355.40" x2="20.60" y2="355.40" stroke="#9a9a9a" stroke-width="0.5"/>
<text transform="translate(18.80 356.52) scale(0.3100)" font-size="10" text-anchor="end" font-weight="bold" fill="#333" stroke="#333" stroke-width="0.806">0</text>
<line x1="118.40" y1="285.90" x2="119.40" y2="285.90" stroke="#9a9a9a" stroke-width="0.5"/>
<text transform="translate(120.90 287.16) scale(0.3500)" font-size="10" text-anchor="start" font-weight="bold" fill="#333" stroke="#333" stroke-width="0.714">60</text>
<line x1="118.40" y1="309.20" x2="119.40" y2="309.20" stroke="#9a9a9a" stroke-width="0.5"/>
<text transform="translate(120.90 310.46) scale(0.3500)" font-size="10" text-anchor="start" font-weight="bold" fill="#333" stroke="#333" stroke-width="0.714">40</text>
<line x1="118.40" y1="332.40" x2="119.40" y2="332.40" stroke="#9a9a9a" stroke-width="0.5"/>
<text transform="translate(120.90 333.66) scale(0.3500)" font-size="10" text-anchor="start" font-weight="bold" fill="#333" stroke="#333" stroke-width="0.714">20</text>
<line x1="118.40" y1="355.40" x2="119.40" y2="355.40" stroke="#9a9a9a" stroke-width="0.5"/>
<text transform="translate(120.90 356.66) scale(0.3500)" font-size="10" text-anchor="start" font-weight="bold" fill="#333" stroke="#333" stroke-width="0.714">0</text>
<line x1="20.40" y1="355.40" x2="20.40" y2="356.40" stroke="#9a9a9a" stroke-width="0.5"/>
<text transform="translate(20.40 360.80) scale(0.3400)" font-size="10" text-anchor="middle" font-weight="bold" fill="#333" stroke="#333" stroke-width="0.735">0</text>
<line x1="36.80" y1="355.40" x2="36.80" y2="356.40" stroke="#9a9a9a" stroke-width="0.5"/>
<text transform="translate(36.80 360.80) scale(0.3400)" font-size="10" text-anchor="middle" font-weight="bold" fill="#333" stroke="#333" stroke-width="0.735">50</text>
<line x1="53.20" y1="355.40" x2="53.20" y2="356.40" stroke="#9a9a9a" stroke-width="0.5"/>
<text transform="translate(53.20 360.80) scale(0.3400)" font-size="10" text-anchor="middle" font-weight="bold" fill="#333" stroke="#333" stroke-width="0.735">100</text>
<line x1="69.60" y1="355.40" x2="69.60" y2="356.40" stroke="#9a9a9a" stroke-width="0.5"/>
<text transform="translate(69.60 360.80) scale(0.3400)" font-size="10" text-anchor="middle" font-weight="bold" fill="#333" stroke="#333" stroke-width="0.735">150</text>
<line x1="85.80" y1="355.40" x2="85.80" y2="356.40" stroke="#9a9a9a" stroke-width="0.5"/>
<text transform="translate(85.80 360.80) scale(0.3400)" font-size="10" text-anchor="middle" font-weight="bold" fill="#333" stroke="#333" stroke-width="0.735">200</text>
<line x1="102.10" y1="355.40" x2="102.10" y2="356.40" stroke="#9a9a9a" stroke-width="0.5"/>
<text transform="translate(102.10 360.80) scale(0.3400)" font-size="10" text-anchor="middle" font-weight="bold" fill="#333" stroke="#333" stroke-width="0.735">250</text>
<line x1="118.00" y1="355.40" x2="118.00" y2="356.40" stroke="#9a9a9a" stroke-width="0.5"/>
<text transform="translate(118.00 360.80) scale(0.3400)" font-size="10" text-anchor="middle" font-weight="bold" fill="#333" stroke="#333" stroke-width="0.735">300</text>
<text transform="translate(69.40 366.70) scale(0.3850)" font-size="10" text-anchor="middle" font-weight="bold" fill="#333" stroke="#333" stroke-width="0.519">Days following start of therapy</text>
<text transform="translate(6.17 320.70) rotate(-90) scale(0.3800)" font-size="10" text-anchor="middle" font-weight="bold" fill="#333" stroke="#333" stroke-width="0.421">serum 2-HG (ng/ml)</text>
<text transform="translate(129.72 322.00) rotate(90) scale(0.4100)" font-size="10" text-anchor="middle" font-weight="bold" fill="#333" stroke="#333" stroke-width="0.390">Blast %</text>
<polyline points="20.40,303.50 23.20,296.30 40.60,316.90 57.30,315.80 76.80,352.20 104.40,354.50" fill="none" stroke="#e6ccaa" stroke-width="0.8" stroke-linejoin="round"/>
<polyline points="20.40,304.30 23.20,305.60 40.60,329.90 57.30,341.40 77.30,352.00 104.40,353.80" fill="none" stroke="#d66a58" stroke-width="0.7" stroke-linejoin="round"/>
<circle cx="20.40" cy="304.30" r="0.5" fill="#b05040"/>
<circle cx="23.20" cy="305.60" r="0.5" fill="#b05040"/>
<circle cx="40.60" cy="329.90" r="0.5" fill="#b05040"/>
<circle cx="57.30" cy="341.40" r="0.5" fill="#b05040"/>
<circle cx="77.30" cy="352.00" r="0.5" fill="#b05040"/>
<circle cx="104.40" cy="353.80" r="0.5" fill="#b05040"/>
<polyline points="20.40,301.70 23.20,295.20 30.60,311.00 40.60,297.40 69.70,353.80 88.80,330.50 108.70,327.10" fill="none" stroke="#6060c0" stroke-width="0.7" stroke-linejoin="round"/>
<line x1="132.00" y1="279.60" x2="135.20" y2="279.60" stroke="#d66a58" stroke-width="0.7"/>
<circle cx="133.6" cy="279.6" r="0.55" fill="#d66a58"/>
<text transform="translate(137.50 280.62) scale(0.2820)" font-size="10" text-anchor="start" font-weight="bold" fill="#333" stroke="#333" stroke-width="0.603">Peripheral blast percentage</text>
<line x1="132.00" y1="285.50" x2="135.20" y2="285.50" stroke="#e6ccaa" stroke-width="0.7"/>
<circle cx="133.6" cy="285.5" r="0.55" fill="#e6ccaa"/>
<text transform="translate(137.50 286.52) scale(0.2820)" font-size="10" text-anchor="start" font-weight="bold" fill="#333" stroke="#333" stroke-width="0.603">Marrow blast percentage</text>
<line x1="132.00" y1="291.40" x2="135.20" y2="291.40" stroke="#6060c0" stroke-width="0.7"/>
<circle cx="133.6" cy="291.40000000000003" r="0.55" fill="#6060c0"/>
<text transform="translate(137.50 292.42) scale(0.2820)" font-size="10" text-anchor="start" font-weight="bold" fill="#333" stroke="#333" stroke-width="0.603">Serum 2-HG (ng/mL)</text>
<rect x="131.00" y="295.30" width="5.20" height="4.00" fill="#e8e8ea"/>
<text transform="translate(138.30 298.32) scale(0.2820)" font-size="10" text-anchor="start" font-weight="bold" fill="#333" stroke="#333" stroke-width="0.603">Treatment</text>
<text transform="translate(190.00 274.50) scale(1.2000)" font-size="10" text-anchor="start" font-weight="bold" fill="#000" stroke="#000" stroke-width="0.208">H</text>
<line x1="226.00" y1="284.00" x2="226.00" y2="355.40" stroke="#e2e2e8" stroke-width="0.8"/>
<line x1="236.00" y1="284.00" x2="236.00" y2="355.40" stroke="#e2e2e8" stroke-width="0.8"/>
<line x1="246.00" y1="284.00" x2="246.00" y2="355.40" stroke="#e2e2e8" stroke-width="0.8"/>
<line x1="256.00" y1="284.00" x2="256.00" y2="355.40" stroke="#e2e2e8" stroke-width="0.8"/>
<line x1="266.00" y1="284.00" x2="266.00" y2="355.40" stroke="#e2e2e8" stroke-width="0.8"/>
<line x1="276.00" y1="284.00" x2="276.00" y2="355.40" stroke="#e2e2e8" stroke-width="0.8"/>
<line x1="286.00" y1="284.00" x2="286.00" y2="355.40" stroke="#e2e2e8" stroke-width="0.8"/>
<line x1="296.00" y1="284.00" x2="296.00" y2="355.40" stroke="#e2e2e8" stroke-width="0.8"/>
<line x1="306.00" y1="284.00" x2="306.00" y2="355.40" stroke="#e2e2e8" stroke-width="0.8"/>
<line x1="316.00" y1="284.00" x2="316.00" y2="355.40" stroke="#e2e2e8" stroke-width="0.8"/>
<line x1="216.20" y1="284.20" x2="216.20" y2="355.40" stroke="#9a9a9a" stroke-width="0.7"/>
<line x1="317.90" y1="284.20" x2="317.90" y2="355.40" stroke="#9a9a9a" stroke-width="0.7"/>
<line x1="216.20" y1="355.40" x2="317.90" y2="355.40" stroke="#9a9a9a" stroke-width="0.7"/>
<line x1="215.20" y1="283.80" x2="216.20" y2="283.80" stroke="#9a9a9a" stroke-width="0.5"/>
<text transform="translate(214.00 284.88) scale(0.3000)" font-size="10" text-anchor="end" font-weight="bold" fill="#333" stroke="#333" stroke-width="0.833">600000</text>
<line x1="215.20" y1="295.70" x2="216.20" y2="295.70" stroke="#9a9a9a" stroke-width="0.5"/>
<text transform="translate(214.00 296.78) scale(0.3000)" font-size="10" text-anchor="end" font-weight="bold" fill="#333" stroke="#333" stroke-width="0.833">500000</text>
<line x1="215.20" y1="307.80" x2="216.20" y2="307.80" stroke="#9a9a9a" stroke-width="0.5"/>
<text transform="translate(214.00 308.88) scale(0.3000)" font-size="10" text-anchor="end" font-weight="bold" fill="#333" stroke="#333" stroke-width="0.833">400000</text>
<line x1="215.20" y1="319.80" x2="216.20" y2="319.80" stroke="#9a9a9a" stroke-width="0.5"/>
<text transform="translate(214.00 320.88) scale(0.3000)" font-size="10" text-anchor="end" font-weight="bold" fill="#333" stroke="#333" stroke-width="0.833">300000</text>
<line x1="215.20" y1="331.80" x2="216.20" y2="331.80" stroke="#9a9a9a" stroke-width="0.5"/>
<text transform="translate(214.00 332.88) scale(0.3000)" font-size="10" text-anchor="end" font-weight="bold" fill="#333" stroke="#333" stroke-width="0.833">200000</text>
<line x1="215.20" y1="343.80" x2="216.20" y2="343.80" stroke="#9a9a9a" stroke-width="0.5"/>
<text transform="translate(214.00 344.88) scale(0.3000)" font-size="10" text-anchor="end" font-weight="bold" fill="#333" stroke="#333" stroke-width="0.833">100000</text>
<line x1="215.20" y1="355.40" x2="216.20" y2="355.40" stroke="#9a9a9a" stroke-width="0.5"/>
<text transform="translate(214.00 356.48) scale(0.3000)" font-size="10" text-anchor="end" font-weight="bold" fill="#333" stroke="#333" stroke-width="0.833">0</text>
<line x1="317.90" y1="283.80" x2="318.90" y2="283.80" stroke="#9a9a9a" stroke-width="0.5"/>
<text transform="translate(320.40 285.10) scale(0.3600)" font-size="10" text-anchor="start" font-weight="bold" fill="#333" stroke="#333" stroke-width="0.694">60</text>
<line x1="317.90" y1="307.90" x2="318.90" y2="307.90" stroke="#9a9a9a" stroke-width="0.5"/>
<text transform="translate(320.40 309.20) scale(0.3600)" font-size="10" text-anchor="start" font-weight="bold" fill="#333" stroke="#333" stroke-width="0.694">40</text>
<line x1="317.90" y1="331.90" x2="318.90" y2="331.90" stroke="#9a9a9a" stroke-width="0.5"/>
<text transform="translate(320.40 333.20) scale(0.3600)" font-size="10" text-anchor="start" font-weight="bold" fill="#333" stroke="#333" stroke-width="0.694">20</text>
<line x1="317.90" y1="355.40" x2="318.90" y2="355.40" stroke="#9a9a9a" stroke-width="0.5"/>
<text transform="translate(320.40 356.70) scale(0.3600)" font-size="10" text-anchor="start" font-weight="bold" fill="#333" stroke="#333" stroke-width="0.694">0</text>
<line x1="216.20" y1="355.40" x2="216.20" y2="356.40" stroke="#9a9a9a" stroke-width="0.5"/>
<text transform="translate(216.20 360.30) scale(0.3400)" font-size="10" text-anchor="middle" font-weight="bold" fill="#333" stroke="#333" stroke-width="0.735">0</text>
<line x1="233.10" y1="355.40" x2="233.10" y2="356.40" stroke="#9a9a9a" stroke-width="0.5"/>
<text transform="translate(233.10 360.30) scale(0.3400)" font-size="10" text-anchor="middle" font-weight="bold" fill="#333" stroke="#333" stroke-width="0.735">50</text>
<line x1="249.90" y1="355.40" x2="249.90" y2="356.40" stroke="#9a9a9a" stroke-width="0.5"/>
<text transform="translate(249.90 360.30) scale(0.3400)" font-size="10" text-anchor="middle" font-weight="bold" fill="#333" stroke="#333" stroke-width="0.735">100</text>
<line x1="266.70" y1="355.40" x2="266.70" y2="356.40" stroke="#9a9a9a" stroke-width="0.5"/>
<text transform="translate(266.70 360.30) scale(0.3400)" font-size="10" text-anchor="middle" font-weight="bold" fill="#333" stroke="#333" stroke-width="0.735">150</text>
<line x1="283.50" y1="355.40" x2="283.50" y2="356.40" stroke="#9a9a9a" stroke-width="0.5"/>
<text transform="translate(283.50 360.30) scale(0.3400)" font-size="10" text-anchor="middle" font-weight="bold" fill="#333" stroke="#333" stroke-width="0.735">200</text>
<line x1="300.20" y1="355.40" x2="300.20" y2="356.40" stroke="#9a9a9a" stroke-width="0.5"/>
<text transform="translate(300.20 360.30) scale(0.3400)" font-size="10" text-anchor="middle" font-weight="bold" fill="#333" stroke="#333" stroke-width="0.735">250</text>
<line x1="316.80" y1="355.40" x2="316.80" y2="356.40" stroke="#9a9a9a" stroke-width="0.5"/>
<text transform="translate(316.80 360.30) scale(0.3400)" font-size="10" text-anchor="middle" font-weight="bold" fill="#333" stroke="#333" stroke-width="0.735">300</text>
<text transform="translate(266.80 366.70) scale(0.3960)" font-size="10" text-anchor="middle" font-weight="bold" fill="#333" stroke="#333" stroke-width="0.505">Days following start of therapy</text>
<text transform="translate(199.00 319.30) rotate(-90) scale(0.3900)" font-size="10" text-anchor="middle" font-weight="bold" fill="#333" stroke="#333" stroke-width="0.410">urine 2-HG (ng/ml)</text>
<text transform="translate(328.79 320.40) rotate(90) scale(0.4200)" font-size="10" text-anchor="middle" font-weight="bold" fill="#333" stroke="#333" stroke-width="0.381">Blast %</text>
<polyline points="218.70,292.10 236.00,316.00 254.50,314.40 266.40,342.00 275.00,351.80 303.30,353.90" fill="none" stroke="#e8c4bc" stroke-width="0.8" stroke-linejoin="round"/>
<polyline points="216.50,303.00 218.70,304.00 226.30,313.80 236.00,329.60 253.40,340.90 266.40,348.50 275.00,352.20 303.30,354.40" fill="none" stroke="#d06450" stroke-width="0.7" stroke-linejoin="round"/>
<circle cx="216.50" cy="303.00" r="0.5" fill="#a04838"/>
<circle cx="218.70" cy="304.00" r="0.5" fill="#a04838"/>
<circle cx="226.30" cy="313.80" r="0.5" fill="#a04838"/>
<circle cx="236.00" cy="329.60" r="0.5" fill="#a04838"/>
<circle cx="253.40" cy="340.90" r="0.5" fill="#a04838"/>
<circle cx="266.40" cy="348.50" r="0.5" fill="#a04838"/>
<circle cx="275.00" cy="352.20" r="0.5" fill="#a04838"/>
<circle cx="303.30" cy="354.40" r="0.5" fill="#a04838"/>
<polyline points="216.50,316.00 218.70,296.40 226.30,321.00 236.00,330.50 266.40,342.00 287.70,341.30 307.20,342.60" fill="none" stroke="#7458b8" stroke-width="0.7" stroke-linejoin="round"/>
<line x1="330.40" y1="279.90" x2="333.60" y2="279.90" stroke="#d06450" stroke-width="0.7"/>
<circle cx="332" cy="279.9" r="0.55" fill="#d06450"/>
<text transform="translate(336.20 280.92) scale(0.2820)" font-size="10" text-anchor="start" font-weight="bold" fill="#333" stroke="#333" stroke-width="0.603">Peripheral blast percentage</text>
<line x1="330.40" y1="285.90" x2="333.60" y2="285.90" stroke="#e8c4bc" stroke-width="0.7"/>
<circle cx="332" cy="285.9" r="0.55" fill="#e8c4bc"/>
<text transform="translate(336.20 286.92) scale(0.2820)" font-size="10" text-anchor="start" font-weight="bold" fill="#333" stroke="#333" stroke-width="0.603">Marrow blast percentage</text>
<line x1="330.40" y1="291.90" x2="333.60" y2="291.90" stroke="#7458b8" stroke-width="0.7"/>
<circle cx="332" cy="291.9" r="0.55" fill="#7458b8"/>
<text transform="translate(336.20 292.92) scale(0.2820)" font-size="10" text-anchor="start" font-weight="bold" fill="#333" stroke="#333" stroke-width="0.603">Urine 2-HG (ng/mL)</text>
<rect x="329.40" y="295.90" width="5.20" height="4.00" fill="#e6e6f0"/>
<text transform="translate(337.00 298.92) scale(0.2820)" font-size="10" text-anchor="start" font-weight="bold" fill="#333" stroke="#333" stroke-width="0.603">Treatment</text>
</svg>
</body></html>
